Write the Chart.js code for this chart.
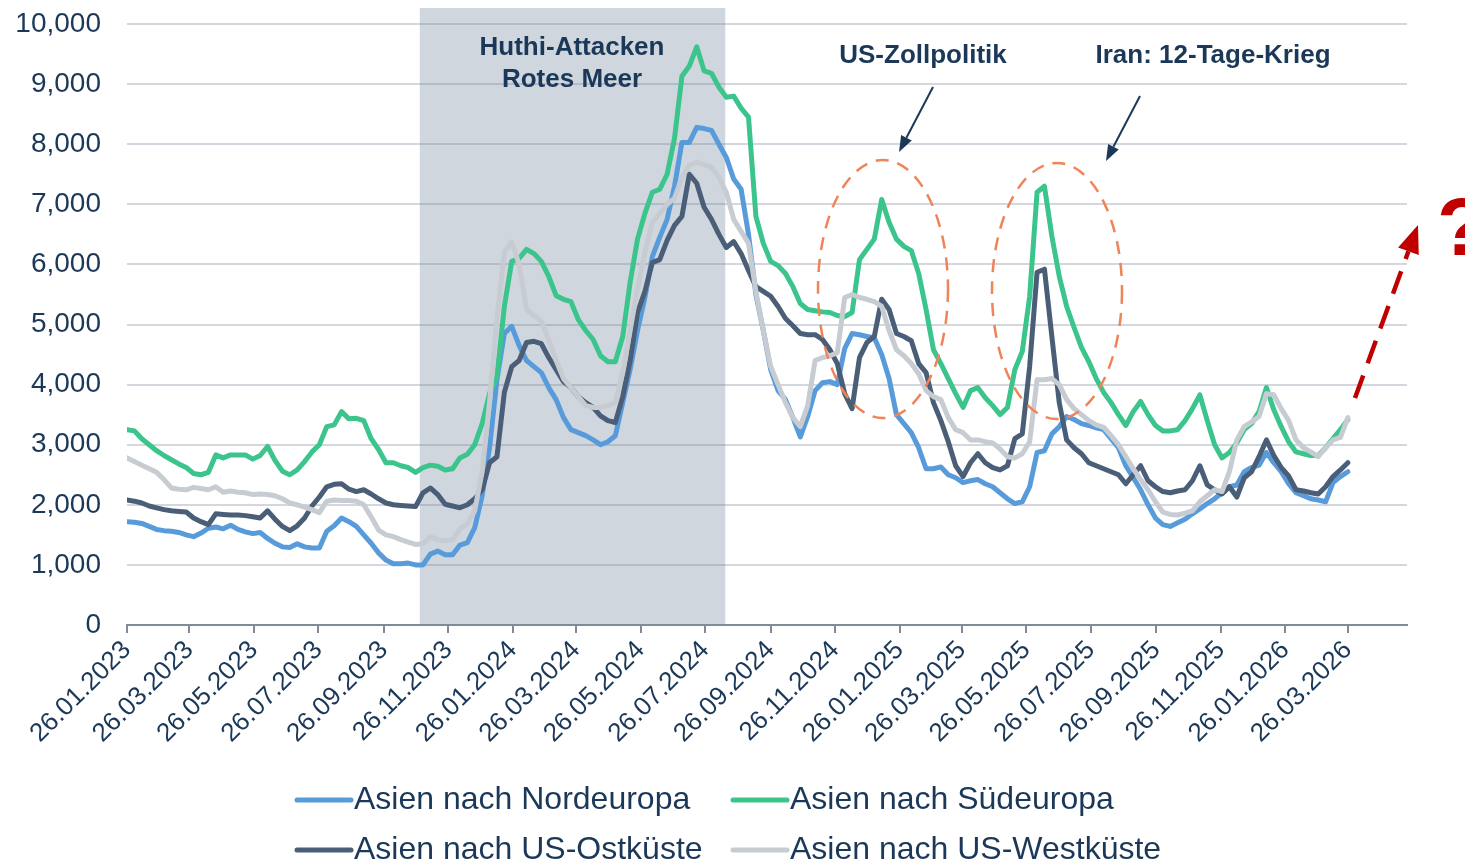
<!DOCTYPE html>
<html>
<head>
<meta charset="utf-8">
<script src="https://cdn.jsdelivr.net/npm/chart.js@4.4.1/dist/chart.umd.min.js"></script>
<style>
  html, body { margin: 0; padding: 0; background: #fff; overflow: hidden; }
  #wrap { width: 1465px; height: 864px; }
</style>
</head>
<body>
<div id="wrap"><canvas id="freightChart" width="1465" height="864"></canvas></div>
<script>
// weekly series, first week 26.01.2023
const startDate = '26.01.2023';

const tickLabels = ['26.01.2023', '26.03.2023', '26.05.2023', '26.07.2023', '26.09.2023', '26.11.2023',
  '26.01.2024', '26.03.2024', '26.05.2024', '26.07.2024', '26.09.2024', '26.11.2024',
  '26.01.2025', '26.03.2025', '26.05.2025', '26.07.2025', '26.09.2025', '26.11.2025',
  '26.01.2026', '26.03.2026'];

const seriesNames = ['Asien nach Nordeuropa', 'Asien nach Südeuropa', 'Asien nach US-Ostküste', 'Asien nach US-Westküste'];

const nordeuropa = [
  1720, 1710, 1690, 1640, 1590, 1570, 1560, 1540, 1500, 1470,
  1530, 1610, 1630, 1600, 1660, 1590, 1550, 1520, 1540, 1440,
  1360, 1300, 1290, 1350, 1300, 1280, 1280, 1560, 1650, 1780,
  1720, 1640, 1500, 1360, 1200, 1080, 1020, 1020, 1030, 1000,
  1000, 1180, 1230, 1170, 1170, 1330, 1370, 1620, 2150, 2950,
  4080, 4850, 4970, 4650, 4400, 4300, 4200, 3950, 3750, 3450,
  3250, 3200, 3150, 3080, 3000, 3050, 3150, 3700, 4250, 4900,
  5450, 6130, 6450, 6750, 7300, 8030, 8030, 8280, 8260, 8230,
  8000, 7780, 7420, 7250, 6500, 5500, 4900, 4250, 3900, 3750,
  3450, 3130, 3470, 3900, 4030, 4050, 4000, 4600, 4850, 4830,
  4800, 4780, 4500, 4100, 3500, 3350, 3200, 2950, 2600, 2600,
  2630, 2500, 2450, 2370, 2400, 2420, 2350, 2300, 2200, 2100,
  2020, 2050, 2300, 2870, 2900, 3180, 3300, 3470, 3420, 3350,
  3320, 3280, 3250, 3100, 2950, 2650, 2450, 2250, 2000, 1780,
  1670, 1640, 1700, 1760, 1850, 1930, 2020, 2100, 2200, 2300,
  2330, 2550, 2620, 2660, 2870, 2700, 2550, 2350, 2200, 2150,
  2100, 2080, 2050, 2370, 2470, 2550
];

const suedeuropa = [
  3250, 3230, 3100, 3000, 2900, 2820, 2750, 2680, 2620, 2520,
  2500, 2540, 2830, 2780, 2830, 2830, 2830, 2760, 2820, 2970,
  2740, 2560, 2500, 2580, 2720, 2880, 3000, 3300, 3330, 3550,
  3430, 3440, 3400, 3100, 2920, 2700, 2700, 2650, 2620, 2540,
  2620, 2660, 2640, 2580, 2600, 2780, 2840, 3000, 3350, 3850,
  4130, 5300, 6050, 6100, 6250, 6180, 6050, 5800, 5480, 5420,
  5380, 5080, 4900, 4750, 4480, 4380, 4380, 4800, 5700, 6420,
  6850, 7200, 7250, 7500, 8100, 9130, 9300, 9620, 9220, 9180,
  8950, 8780, 8800, 8600, 8450, 6800, 6350, 6050, 5980, 5850,
  5630, 5350, 5250, 5230, 5210, 5200, 5150, 5130, 5200, 6080,
  6250, 6420, 7080, 6700, 6420, 6300, 6230, 5850, 5250, 4580,
  4350, 4100, 3850, 3620, 3900, 3950, 3780, 3650, 3500, 3620,
  4250, 4550, 5470, 7200, 7300, 6470, 5800, 5300, 4950, 4620,
  4380, 4100, 3870, 3700, 3500, 3320, 3550, 3720, 3500, 3320,
  3230, 3230, 3250, 3400, 3600, 3830, 3400, 3000, 2780, 2870,
  3030, 3250, 3350, 3550, 3950, 3580, 3300, 3050, 2880, 2850,
  2820, 2820, 2950, 3100, 3250, 3420
];

const usOstkueste = [
  2080, 2060, 2030, 1980, 1950, 1920, 1900, 1890, 1880, 1780,
  1720, 1670, 1850, 1840, 1830, 1830, 1820, 1800, 1780, 1900,
  1760, 1640, 1570, 1650, 1780, 1980, 2130, 2300, 2340, 2350,
  2260, 2220, 2250, 2180, 2100, 2030, 2000, 1990, 1980, 1970,
  2200, 2280, 2170, 2010, 1980, 1950, 2000, 2100, 2250, 2700,
  2800, 3870, 4300, 4400, 4700, 4720, 4680, 4450, 4250, 4050,
  3950, 3800, 3700, 3620, 3480, 3400, 3370, 3800, 4400, 5200,
  5550, 6030, 6080, 6400, 6650, 6800, 7500, 7350, 6950, 6750,
  6500, 6280, 6380, 6180, 5900, 5630, 5550, 5470, 5300, 5100,
  4980, 4850, 4830, 4830, 4750, 4580, 4350, 3850, 3600, 4450,
  4700, 4800, 5420, 5250, 4850, 4800, 4730, 4350, 4200, 3700,
  3400, 3050, 2650, 2470, 2700, 2850, 2700, 2620, 2580, 2650,
  3100, 3180, 4300, 5870, 5920, 4800, 3700, 3080, 2950, 2850,
  2700, 2650, 2600, 2550, 2500, 2350, 2500, 2650, 2400, 2300,
  2220, 2200, 2230, 2250, 2400, 2650, 2330, 2250, 2180, 2300,
  2130, 2450, 2550, 2800, 3080, 2820, 2620, 2480, 2250, 2230,
  2200, 2180, 2300, 2470, 2580, 2700
];

const usWestkueste = [
  2780, 2720, 2660, 2600, 2540, 2420, 2280, 2260, 2250, 2290,
  2270, 2250, 2300, 2210, 2230, 2210, 2200, 2170, 2180, 2170,
  2150, 2100, 2030, 2000, 1960, 1920, 1870, 2060, 2080, 2070,
  2070, 2060, 2000, 1800, 1580, 1500, 1470, 1420, 1380, 1340,
  1350, 1470, 1420, 1400, 1420, 1600, 1680, 1900, 2550, 3700,
  5100, 6200, 6370, 6000, 5250, 5150, 5050, 4750, 4400, 4100,
  3950, 3800, 3650, 3620, 3620, 3650, 3700, 4200, 4900, 5600,
  6200, 6700, 6850, 7000, 7100, 7450, 7650, 7700, 7660, 7620,
  7450, 7200, 6750, 6550, 6350, 5550, 4900, 4300, 4000, 3700,
  3450, 3300, 3650, 4400, 4450, 4480, 4530, 5450, 5500, 5450,
  5420, 5380, 5300, 4900, 4580, 4480, 4350, 4180, 3900, 3800,
  3750, 3450, 3250, 3200, 3080, 3080, 3050, 3030, 2930, 2800,
  2780, 2850, 3050, 4080, 4080, 4100, 4000, 3750, 3600, 3500,
  3400, 3330, 3290, 3150, 3000, 2800, 2600, 2420, 2250, 2050,
  1880, 1840, 1830, 1860, 1900, 2050, 2150, 2250, 2220, 2550,
  3080, 3300, 3380, 3470, 3850, 3830, 3600, 3400, 3080, 2950,
  2880, 2800, 2950, 3080, 3120, 3450
];

const seriesColors = ['#579BDA', '#3BC48B', '#4A5E78', '#C7CCD2'];

// helpers
function parseDate(s) {
  const [d, m, y] = s.split('.').map(Number);
  return Date.UTC(y, m - 1, d);
}
const DAY = 86400000;
const t0 = parseDate(startDate);
function dayOf(s) { return Math.round((parseDate(s) - t0) / DAY); }
function fmtDay(v) {
  const d = new Date(t0 + v * DAY);
  const p = n => String(n).padStart(2, '0');
  return p(d.getUTCDate()) + '.' + p(d.getUTCMonth() + 1) + '.' + d.getUTCFullYear();
}

const tickDays = tickLabels.map(dayOf);
const weekDays = nordeuropa.map((_, i) => i * 7);

const allSeries = [nordeuropa, suedeuropa, usOstkueste, usWestkueste];
const datasets = allSeries.map((vals, k) => ({
  label: seriesNames[k],
  data: vals.map((v, i) => ({ x: weekDays[i], y: v })),
  borderColor: seriesColors[k],
  backgroundColor: seriesColors[k],
  borderWidth: 5,
  pointRadius: 0,
  tension: 0,
  borderJoinStyle: 'round',
  borderCapStyle: 'round',
  order: 3 - k
}));

const navy = '#1B3858';
const font = "'Liberation Sans', Arial, sans-serif";

function arrow(ctx, x1, y1, x2, y2, color, lw, headLen, headW, dash) {
  const a = Math.atan2(y2 - y1, x2 - x1);
  const bx = x2 - headLen * Math.cos(a), by = y2 - headLen * Math.sin(a);
  ctx.save();
  ctx.strokeStyle = color;
  ctx.fillStyle = color;
  ctx.lineWidth = lw;
  ctx.setLineDash(dash || []);
  ctx.beginPath();
  ctx.moveTo(x1, y1);
  ctx.lineTo(bx, by);
  ctx.stroke();
  ctx.setLineDash([]);
  ctx.beginPath();
  ctx.moveTo(x2, y2);
  ctx.lineTo(bx + headW / 2 * Math.sin(a), by - headW / 2 * Math.cos(a));
  ctx.lineTo(bx - headW / 2 * Math.sin(a), by + headW / 2 * Math.cos(a));
  ctx.closePath();
  ctx.fill();
  ctx.restore();
}

const extras = {
  id: 'extras',
  beforeDatasetsDraw(chart) {
    // shaded period (Red Sea attacks)
    const { ctx, scales: { x, y } } = chart;
    const x1 = x.getPixelForValue(dayOf('30.10.2023'));
    const x2 = x.getPixelForValue(dayOf('14.08.2024'));
    ctx.save();
    ctx.globalCompositeOperation = 'destination-over';
    ctx.fillStyle = '#CFD6DE';
    ctx.fillRect(x1, 8, x2 - x1, y.getPixelForValue(0) - 8);
    ctx.restore();
  },
  afterDatasetsDraw(chart) {
    const { ctx } = chart;
    ctx.save();
    // dashed ellipses
    ctx.strokeStyle = '#EE8458';
    ctx.lineWidth = 2.5;
    ctx.setLineDash([13, 9]);
    ctx.beginPath();
    ctx.ellipse(883, 289, 65, 129, 0, 0, Math.PI * 2);
    ctx.stroke();
    ctx.beginPath();
    ctx.ellipse(1057, 291, 65, 128, 0, 0, Math.PI * 2);
    ctx.stroke();
    ctx.setLineDash([]);

    // labels
    ctx.fillStyle = navy;
    ctx.font = 'bold 26px ' + font;
    ctx.textAlign = 'center';
    ctx.textBaseline = 'middle';
    ctx.fillText('Huthi-Attacken', 572, 48);
    ctx.fillText('Rotes Meer', 572, 80);
    ctx.fillText('US-Zollpolitik', 923, 56);
    ctx.fillText('Iran: 12-Tage-Krieg', 1213, 56);
    ctx.restore();

    arrow(ctx, 933, 87, 899, 152, navy, 2, 16, 12);
    arrow(ctx, 1140, 96, 1106, 161, navy, 2, 16, 12);

    // red outlook arrow and question mark
    arrow(ctx, 1355, 398, 1418, 225, '#C00000', 4.5, 28, 22, [24, 13]);
    ctx.save();
    ctx.fillStyle = '#C00000';
    ctx.font = 'bold 82px ' + font;
    ctx.textAlign = 'left';
    ctx.textBaseline = 'alphabetic';
    ctx.fillText('?', 1437, 255);
    ctx.restore();

    // legend, two columns
    ctx.save();
    ctx.font = '32px ' + font;
    ctx.textBaseline = 'middle';
    ctx.textAlign = 'left';
    const colX = [297, 733], rowY = [800, 850];
    chart.data.datasets.forEach((ds, i) => {
      const lx = colX[i % 2], ly = rowY[Math.floor(i / 2)];
      ctx.strokeStyle = ds.borderColor;
      ctx.lineWidth = 5;
      ctx.lineCap = 'round';
      ctx.beginPath();
      ctx.moveTo(lx, ly);
      ctx.lineTo(lx + 54, ly);
      ctx.stroke();
      ctx.fillStyle = navy;
      ctx.fillText(ds.label, lx + 57, ly);
    });
    ctx.restore();
  }
};

const ctx = document.getElementById('freightChart').getContext('2d');
const chart = new Chart(ctx, {
  type: 'line',
  data: { datasets },
  options: {
    responsive: false,
    animation: false,
    layout: { padding: { top: 24, right: 58, bottom: 89, left: 0 } },
    plugins: { legend: { display: false }, tooltip: { enabled: false } },
    scales: {
      x: {
        type: 'linear',
        min: 0,
        max: 1211,
        afterBuildTicks: (scale) => { scale.ticks = tickDays.map(v => ({ value: v })); },
        afterFit: (scale) => { scale.height = 150; },
        ticks: {
          autoSkip: false,
          maxRotation: 45,
          minRotation: 45,
          padding: 2,
          color: navy,
          font: { family: font, size: 26 },
          callback: (v) => fmtDay(v)
        },
        grid: { drawOnChartArea: false, drawTicks: true, tickLength: 8, color: '#7F8B98', lineWidth: 2 },
        border: { display: true, color: '#7F8B98', width: 2 }
      },
      y: {
        min: 0,
        max: 10000,
        afterFit: (scale) => {
          scale.width = 127;
          scale.paddingTop = 0;
          scale.paddingBottom = 0;
        },
        ticks: {
          stepSize: 1000,
          padding: 26,
          color: navy,
          font: { family: font, size: 28 },
          callback: (v) => v.toLocaleString('en-US')
        },
        grid: { drawTicks: false, color: 'rgba(120,132,148,0.32)', lineWidth: 2 },
        border: { display: false }
      }
    }
  },
  plugins: [extras]
});
</script>
</body>
</html>
